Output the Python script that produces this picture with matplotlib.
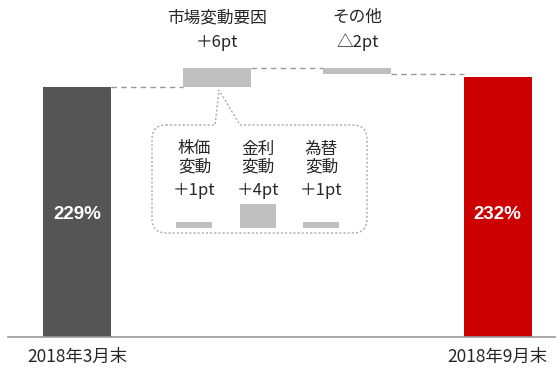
import matplotlib
matplotlib.use('Agg')
import matplotlib.pyplot as plt
from matplotlib.path import Path
from matplotlib.patches import PathPatch

plt.rcParams['font.family'] = ['Noto Sans CJK JP', 'DejaVu Sans']

# waterfall: start, market factor, other, end (ratio in %, changes in pt)
start_label = '2018年3月末'
end_label = '2018年9月末'
start_value = 229
end_value = 232
step_names = ['市場変動要因', 'その他']
step_labels = ['＋6pt', '△2pt']
step_deltas = [6, -2]

# breakdown of the market factor
sub_names = ['株価\n変動', '金利\n変動', '為替\n変動']
sub_labels = ['＋1pt', '＋4pt', '＋1pt']
sub_values = [1, 4, 1]

base = 150
text_color = '#262626'
grey = '#BFBFBF'
fs = 12

fig = plt.figure(figsize=(5.59, 3.73), dpi=100)
ax = fig.add_axes([0, 0, 1, 1])
ax.set_xlim(-0.549, 3.438)
ax.set_ylim(138.8, 256.4)
ax.axis('off')

w = 0.485
ax.bar(0, start_value - base, bottom=base, width=w, color='#555555')
ax.bar(3, end_value - base, bottom=base, width=w, color='#CC0000')

level = start_value
tops = []
for i, d in enumerate(step_deltas):
    lo, hi = min(level, level + d), max(level, level + d)
    ax.bar(i + 1, hi - lo, bottom=lo, width=w, color=grey)
    tops.append((level, level + d))
    level += d

# dashed connectors between the bars
conn = [start_value, tops[0][1], tops[1][1]]
for i, y in enumerate(conn):
    ax.plot([i + w / 2, i + 1 - w / 2], [y, y], color='#999999', lw=1,
            ls=(0, (4, 3)))

ax.axhline(base, xmin=0.014, xmax=0.993, color='#999999', lw=1.2)

for x, v in [(0, start_value), (3, end_value)]:
    ax.text(x, base + (start_value - base) / 2 - 0.8, f'{v}%', ha='center',
            va='center', color='white', fontsize=13.5, fontweight='bold',
            family=['Liberation Sans', 'DejaVu Sans'])

ax.text(0, 143.9, start_label, ha='center', va='center', fontsize=12.5,
        color=text_color)
ax.text(3, 143.9, end_label, ha='center', va='center', fontsize=12.5,
        color=text_color)

for i, (name, lab) in enumerate(zip(step_names, step_labels)):
    ax.text(i + 1, 250.9, name, ha='center', va='center', fontsize=fs,
            color=text_color)
    ax.text(i + 1, 243.1, lab, ha='center', va='center', fontsize=fs,
            color=text_color)

# callout box (pixel coordinates, origin top-left)
ov = fig.add_axes([0, 0, 1, 1], zorder=-1)
ov.set_xlim(0, 559)
ov.set_ylim(373, 0)
ov.axis('off')
l, r, t, b, rad = 152, 367, 125, 233, 14
verts = [(l + rad, t), (215, t), (219, 90), (240, t), (r - rad, t),
         (r, t), (r, t + rad), (r, b - rad), (r, b), (r - rad, b),
         (l + rad, b), (l, b), (l, b - rad), (l, t + rad), (l, t),
         (l + rad, t)]
codes = [Path.MOVETO, Path.LINETO, Path.LINETO, Path.LINETO, Path.LINETO,
         Path.CURVE3, Path.CURVE3, Path.LINETO, Path.CURVE3, Path.CURVE3,
         Path.LINETO, Path.CURVE3, Path.CURVE3, Path.LINETO, Path.CURVE3,
         Path.CURVE3]
ov.add_patch(PathPatch(Path(verts, codes), fill=False, ec='#AAAAAA', lw=1,
                       ls=(0, (1.5, 1.5))))

# breakdown bars inside the callout
ax2 = fig.add_axes([152 / 559, (373 - 233) / 373, 215 / 559, 108 / 373])
ax2.set_xlim(-0.669, 2.717)
ax2.set_ylim(-0.833, 17.17)
ax2.axis('off')
ax2.bar(range(3), sub_values, width=0.567, color=grey)
for i, (name, lab) in enumerate(zip(sub_names, sub_labels)):
    ax2.text(i, 11.7, name, ha='center', va='center', fontsize=fs,
             color=text_color, linespacing=1.05)
    ax2.text(i, 6.3, lab, ha='center', va='center', fontsize=fs,
             color=text_color)

fig.savefig('out.png', dpi=100)
